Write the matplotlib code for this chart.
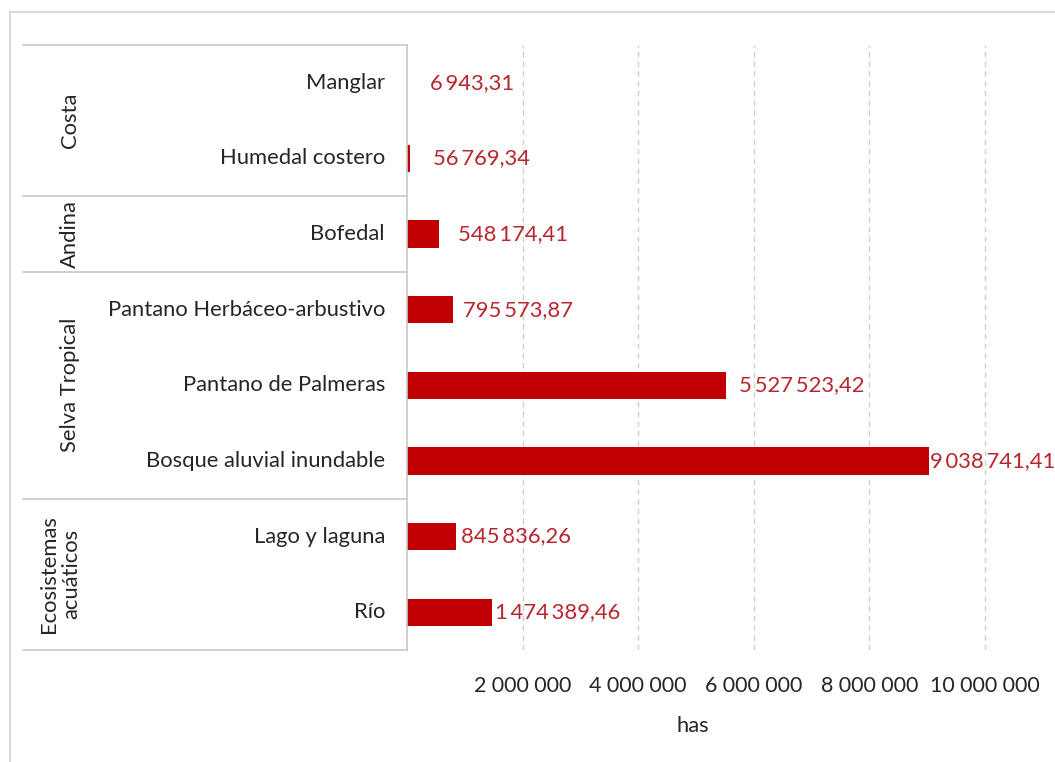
import matplotlib
matplotlib.use("Agg")
import matplotlib.pyplot as plt
from matplotlib.transforms import blended_transform_factory
from matplotlib.lines import Line2D

# Wetland areas (hectares), top to bottom
categories = [
    "Manglar",
    "Humedal costero",
    "Bofedal",
    "Pantano Herbáceo-arbustivo",
    "Pantano de Palmeras",
    "Bosque aluvial inundable",
    "Lago y laguna",
    "Río",
]
areas = [6943.31, 56769.34, 548174.41, 795573.87, 5527523.42, 9038741.41, 845836.26, 1474389.46]

# Region groups: (name, first row, last row)
groups = [
    ("Costa", 0, 1),
    ("Andina", 2, 2),
    ("Selva Tropical", 3, 5),
    ("Ecosistemas\nacuáticos", 6, 7),
]

x_ticks = [2_000_000, 4_000_000, 6_000_000, 8_000_000, 10_000_000]
x_label = "has"

# horizontal nudge (points) for each value label
label_offsets = [16, 16, 14, 7, 9, 0.5, 4, 2]

BAR = "#C00000"
LABEL = "#B8262E"
LINE = "#C8C8C8"
TXT = "#262626"
FONT = "Lato"
FS = 15.8

plt.rcParams["font.family"] = [FONT, "DejaVu Sans"]

W, H = 1055, 762
fig = plt.figure(figsize=(W / 100, H / 100), dpi=100)
fig.patch.set_facecolor("white")

x0, x1 = 407, 1055
y_top, y_bot = 45, 650
ax = fig.add_axes([x0 / W, 1 - y_bot / H, (x1 - x0) / W, (y_bot - y_top) / H])

px_per_unit = 57.8 / 1e6
ax.set_xlim(0, (x1 - x0) / px_per_unit)
ax.set_ylim(len(categories) - 0.5, -0.5)

ypos = list(range(len(categories)))
ax.barh(ypos, areas, height=0.36, color=BAR, zorder=3)

def fmt(v, dec, sep):
    # space-grouped thousands, comma decimals
    s = f"{v:,.{dec}f}"
    return s.replace(",", sep).replace(".", ",")

for y, v, off in zip(ypos, areas, label_offsets):
    ax.annotate(fmt(v, 2, "\u2009"), xy=(v, y), xytext=(off, 0), textcoords="offset points",
                ha="left", va="center", fontsize=FS, color=LABEL, zorder=4,
                annotation_clip=False)

ax.set_xticks(x_ticks)
ax.set_xticklabels([fmt(t, 0, "\u2005") for t in x_ticks], fontsize=15.5, color=TXT)
ax.tick_params(axis="x", length=0, pad=19)
ax.set_yticks([])
ax.grid(axis="x", linestyle=(0, (4, 3)), color="#CFCFCF", linewidth=1.0, zorder=0)
for s in ["top", "right", "bottom"]:
    ax.spines[s].set_visible(False)
ax.spines["left"].set_color(LINE)
ax.spines["left"].set_linewidth(1.2)
ax.spines["left"].set_zorder(5)

# category labels and group frame on the left
tr = blended_transform_factory(fig.transFigure, ax.transData)
for y, name in zip(ypos, categories):
    ax.text(385 / W, y, name, transform=tr, ha="right", va="center",
            fontsize=FS, color=TXT)

bounds = sorted({g[1] - 0.5 for g in groups} | {g[2] + 0.5 for g in groups})
for b in bounds:
    ax.add_line(Line2D([23 / W, x0 / W], [b, b], transform=tr, color=LINE,
                       linewidth=1.2, clip_on=False))

for name, a, b in groups:
    xc = 60 / W if "\n" in name else 70 / W
    ax.text(xc, (a + b) / 2, name, transform=tr, rotation=90, ha="center",
            va="center", fontsize=FS, color=TXT, linespacing=1.15,
            multialignment="center")

# axis title
fig.text(693 / W, 1 - 726 / H, x_label, ha="center", va="center",
         fontsize=FS, color=TXT)

# outer chart frame
fig.add_artist(Line2D([10 / W, 10 / W], [0, 1 - 12 / H], transform=fig.transFigure,
                      color="#D9D9D9", linewidth=1.5))
fig.add_artist(Line2D([10 / W, 1], [1 - 12 / H, 1 - 12 / H], transform=fig.transFigure,
                      color="#D9D9D9", linewidth=1.5))

fig.savefig("out.png", dpi=100, facecolor="white")
